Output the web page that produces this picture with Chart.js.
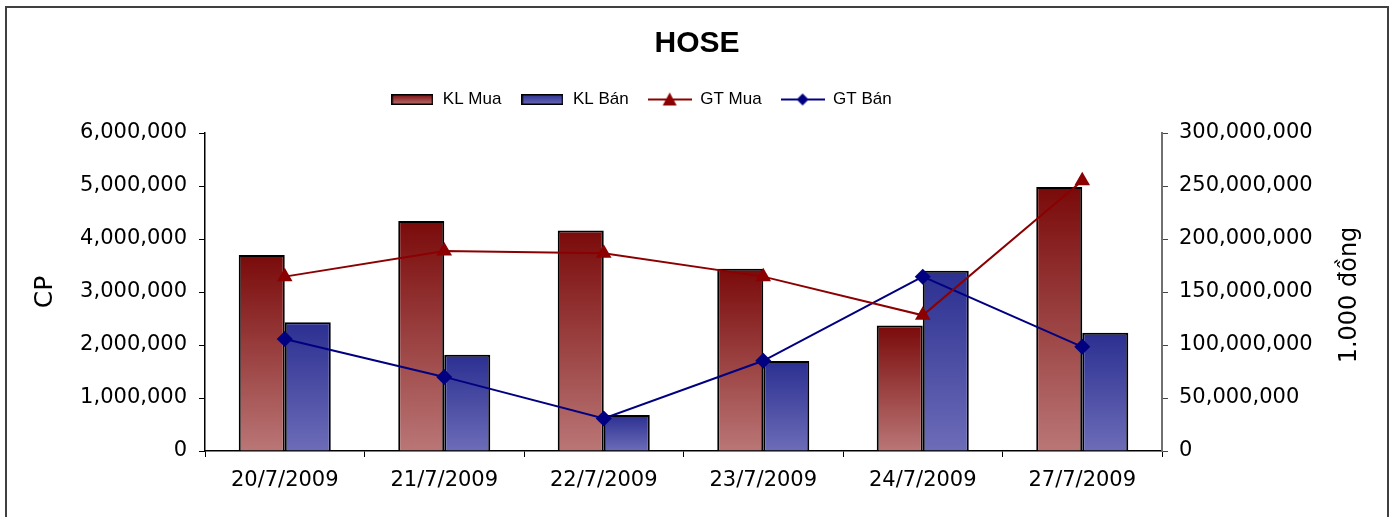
<!DOCTYPE html>
<html>
<head>
<meta charset="utf-8">
<script src="https://cdn.jsdelivr.net/npm/chart.js@4"></script>
<style>
  html, body { margin: 0; padding: 0; background: #fff; overflow: hidden; }
  #wrap { position: absolute; left: 5px; top: 6px; width: 1380px; height: 520px;
          border: 2px solid #404040; border-bottom: none; }
  canvas { display: block; }
</style>
</head>
<body>
<div id="wrap"><canvas id="chart" width="1380" height="509"></canvas></div>
<script>
const dates = ['20/7/2009', '21/7/2009', '22/7/2009', '23/7/2009', '24/7/2009', '27/7/2009'];
const klMua = [3700000, 4340000, 4160000, 3440000, 2370000, 4980000];
const klBan = [2430000, 1815000, 680000, 1700000, 3400000, 2230000];
const gtMua = [164500000, 188700000, 186600000, 164500000, 128000000, 254900000];
const gtBan = [105600000, 69900000, 30600000, 85100000, 164500000, 98300000];

const RED_TOP = '#7a0a0a', RED_BOT = '#ba7676';
const BLUE_TOP = '#2b2f90', BLUE_BOT = '#6c6cb8';
const GT_MUA = '#8b0000', GT_BAN = '#000080';

Chart.defaults.font.family = "'DejaVu Sans', Verdana, sans-serif";
Chart.defaults.color = '#000';

// each bar gets its own gradient, dark at its top
function barFill(top, bottom) {
  return ctx => {
    const chart = ctx.chart;
    const y = chart.scales && chart.scales.y;
    if (!y || ctx.raw == null) return bottom;
    const y0 = y.getPixelForValue(ctx.raw), y1 = y.getPixelForValue(0);
    if (!isFinite(y0) || !isFinite(y1) || y0 === y1) return bottom;
    const g = chart.ctx.createLinearGradient(0, y0, 0, y1);
    g.addColorStop(0, top);
    g.addColorStop(1, bottom);
    return g;
  };
}

// legend symbols
function boxSymbol(top, bottom) {
  const c = document.createElement('canvas');
  c.width = 42; c.height = 11;
  const g = c.getContext('2d');
  const gr = g.createLinearGradient(0, 0, 0, 11);
  gr.addColorStop(0, top);
  gr.addColorStop(1, bottom);
  g.fillStyle = gr;
  g.fillRect(0, 0, 42, 11);
  g.strokeStyle = '#000';
  g.lineWidth = 1.5;
  g.strokeRect(0.75, 0.75, 40.5, 9.5);
  return c;
}
function lineSymbol(color, marker) {
  const c = document.createElement('canvas');
  c.width = 44; c.height = 16;
  const g = c.getContext('2d');
  g.strokeStyle = color;
  g.lineWidth = 2;
  g.beginPath(); g.moveTo(0, 8); g.lineTo(44, 8); g.stroke();
  g.fillStyle = color;
  g.beginPath();
  if (marker === 'triangle') {
    g.moveTo(22, 1); g.lineTo(29, 14); g.lineTo(15, 14);
  } else {
    g.moveTo(22, 2); g.lineTo(28, 8); g.lineTo(22, 14); g.lineTo(16, 8);
  }
  g.closePath(); g.fill();
  return c;
}
const legendSymbols = [
  boxSymbol(RED_TOP, RED_BOT),
  boxSymbol(BLUE_TOP, BLUE_BOT),
  lineSymbol(GT_MUA, 'triangle'),
  lineSymbol(GT_BAN, 'diamond')
];

const fmt = v => Number(v).toLocaleString('en-US');

const extras = {
  id: 'extras',
  beforeLayout(chart) {
    // give the legend a fixed height so the plot starts where the original does
    const lg = chart.legend;
    if (lg && !lg._fixed) {
      const fit = lg.fit.bind(lg);
      lg.fit = function () { fit(); this.height = 61; };
      lg._fixed = true;
    }
  },
  afterLayout(chart) {
    // legend sits a little left of centre in the original
    chart.legend.left -= 56;
    chart.legend.right -= 56;
  },
  afterDraw(chart) {
    const { ctx, chartArea } = chart;
    ctx.save();
    ctx.translate(1343, (chartArea.top + chartArea.bottom) / 2 + 3);
    ctx.rotate(-Math.PI / 2);
    ctx.font = "24px 'DejaVu Sans'";
    ctx.fillStyle = '#000';
    ctx.textAlign = 'center';
    ctx.textBaseline = 'middle';
    ctx.fillText('1.000 đồng', 0, 0);
    ctx.restore();
  }
};

new Chart(document.getElementById('chart'), {
  type: 'bar',
  data: {
    labels: dates,
    datasets: [
      { type: 'bar', label: 'KL Mua', data: klMua, yAxisID: 'y', order: 1,
        backgroundColor: barFill(RED_TOP, RED_BOT), borderColor: '#000', borderWidth: 2,
        barPercentage: 1, categoryPercentage: 0.577 },
      { type: 'bar', label: 'KL Bán', data: klBan, yAxisID: 'y', order: 1,
        backgroundColor: barFill(BLUE_TOP, BLUE_BOT), borderColor: '#000', borderWidth: 2,
        barPercentage: 1, categoryPercentage: 0.577 },
      { type: 'line', label: 'GT Mua', data: gtMua, yAxisID: 'y2', order: 0,
        borderColor: GT_MUA, backgroundColor: GT_MUA, borderWidth: 2, tension: 0,
        pointStyle: 'triangle', pointRadius: 9, pointBorderWidth: 0, fill: false },
      { type: 'line', label: 'GT Bán', data: gtBan, yAxisID: 'y2', order: 0,
        borderColor: GT_BAN, backgroundColor: GT_BAN, borderWidth: 2, tension: 0,
        pointStyle: 'rectRot', pointRadius: 8, pointBorderWidth: 0, fill: false }
    ]
  },
  options: {
    responsive: false,
    animation: false,
    layout: { padding: 0 },
    plugins: {
      title: {
        display: true, text: 'HOSE', color: '#000',
        font: { family: "'Liberation Sans', Arial, sans-serif", size: 30, weight: 'bold' },
        padding: { top: 18, bottom: 10 }
      },
      legend: {
        display: true,
        labels: {
          color: '#000',
          font: { family: "'Liberation Sans', Arial, sans-serif", size: 17 },
          usePointStyle: true,
          pointStyleWidth: 44,
          padding: 19,
          generateLabels: chart => chart.data.datasets.map((ds, i) => ({
            text: ds.label,
            fillStyle: 'transparent',
            strokeStyle: 'transparent',
            lineWidth: 1,
            pointStyle: legendSymbols[i],
            hidden: false,
            datasetIndex: i,
            fontColor: '#000'
          }))
        }
      },
      tooltip: { enabled: false }
    },
    scales: {
      x: {
        grid: { display: true, drawOnChartArea: false, tickLength: 6, color: '#000', offset: true },
        border: { color: '#000', width: 1.5 },
        ticks: { font: { size: 21 }, padding: 11, maxRotation: 0 },
        afterFit: s => { s.height = 66; }
      },
      y: {
        position: 'left',
        min: 0, max: 6000000,
        ticks: { stepSize: 1000000, font: { size: 21 }, padding: 12, callback: fmt },
        grid: { display: true, drawOnChartArea: false, tickLength: 6, color: '#000' },
        border: { color: '#000', width: 1.5 },
        title: { display: true, text: 'CP', font: { size: 25 }, padding: { top: 23, bottom: 0 } },
        afterFit: s => { s.width = 198; }
      },
      y2: {
        position: 'right',
        min: 0, max: 300000000,
        ticks: { stepSize: 50000000, font: { size: 21 }, padding: 11, callback: fmt },
        grid: { display: true, drawOnChartArea: false, tickLength: 6, color: '#444' },
        border: { color: '#707070', width: 2 },
        afterFit: s => { s.width = 225; }
      }
    }
  },
  plugins: [extras]
});
</script>
</body>
</html>
